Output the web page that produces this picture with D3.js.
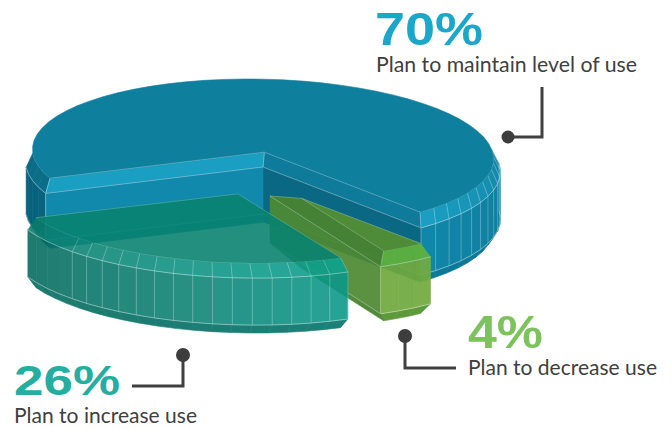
<!DOCTYPE html>
<html>
<head>
<meta charset="utf-8">
<script src="https://cdn.jsdelivr.net/npm/d3@7"></script>
<style>
  html, body { margin: 0; padding: 0; background: #fff; }
  svg { display: block; }
</style>
</head>
<body>
<svg id="chart" width="672" height="429"></svg>
<script>
// Survey shares, clockwise from the maintain wedge.
const categories = ["Plan to maintain level of use", "Plan to decrease use", "Plan to increase use"];
const shares = [70, 4, 26];
const shareLabels = ["70%", "4%", "26%"];

const DEG = Math.PI / 180;

// Placement of each exploded wedge on the page.
const wedgeFrames = [
  { cx: 263, cy: 154, rx: 230, ry: 75, shear: 15, opacity: 1, inset: 0.021, seamsFrom: 440, seamsTo: 502 },
  { cx: 270, cy: 183, rx: 234, ry: 75, shear: 15, opacity: 0.93, inset: 0.03, seamsFrom: 520, seamsTo: 520 },
  { cx: 240, cy: 192, rx: 225, ry: 71, shear: 16, opacity: 0.89, inset: 0.021, seamsFrom: 516, seamsTo: 592 }
];

// Face colours; ramps are keyed by the angle around the pie in degrees.
const wedgePaint = [
  {
    top: "#0f7f9e",
    bevel: { at: [250, 270, 450, 502], colors: ["#0b6f8a", "#0a6a84", "#1484a3", "#1aa0c3"] },
    wall: { at: [250, 270, 450, 502], colors: ["#05637e", "#05637e", "#0f7f9f", "#1086a8"] },
    foot: { at: [250, 502], colors: ["#0a6480", "#0b7a98"] },
    cutStart: ["#1a9fc2", "#1189ad", "#0f80a2"],
    cutEnd: ["#0f7b9a", "#0b6885", "#0a5f7a"]
  },
  {
    top: "#558f33",
    bevel: { at: [502, 517], colors: ["#5fb33c", "#5fb33c"] },
    wall: { at: [502, 517], colors: ["#72ab40", "#70a93f"] },
    foot: { at: [502, 517], colors: ["#52922d", "#52922d"] },
    cutStart: ["#4d8a33", "#4e8a34", "#4e8a34"],
    cutEnd: ["#4a8530", "#4e8a34", "#46812d"]
  },
  {
    top: "#088370",
    bevel: { at: [516, 560, 610], colors: ["#0ca391", "#0e9182", "#0a7a6a"] },
    wall: { at: [516, 560, 610], colors: ["#0b9a8a", "#0e8173", "#03695d"] },
    foot: { at: [516, 610], colors: ["#007268", "#00695c"] },
    cutStart: ["#088370", "#088370", "#088370"],
    cutEnd: ["#088370", "#088370", "#088370"]
  }
];

// Rings of the bevelled solid, from the top face down to the foot.
const rings = [
  { bevelled: true, radius: 1.00, drop: 0 },
  { bevelled: false, radius: 1.03, drop: 13 },
  { bevelled: false, radius: 1.03, drop: 60 },
  { bevelled: true, radius: 1.00, drop: 70 }
];
const SEGMENT = 5 * DEG;

const callouts = [
  { path: [[542, 87], [542, 137], [508, 137]], dot: [508, 137], r: 6.5 },
  { path: [[405, 336], [405, 368], [456, 368]], dot: [405, 336], r: 7 },
  { path: [[183, 355], [183, 386], [132, 386]], dot: [183, 355], r: 7 }
];
const labelStyle = [
  { color: "#1ba7c9", bigX: 375, bigY: 45, bigLen: 108, bigSize: 47, x: 376, y: 72, len: 261 },
  { color: "#7dc35c", bigX: 468, bigY: 348, bigLen: 75, bigSize: 47, x: 468, y: 375, len: 189 },
  { color: "#25ae9f", bigX: 14, bigY: 395, bigLen: 106, bigSize: 43, x: 14, y: 423, len: 183 }
];

const svg = d3.select("#chart");
const outline = d3.line();

const pie = d3.pie().sort(null).startAngle(250 * DEG).endAngle((250 + 360) * DEG);
const arcs = pie(shares);

function ramp(spec) {
  return d3.scaleLinear().domain(spec.at).range(spec.colors)
    .interpolate(d3.interpolateRgb).clamp(true);
}

function drawWedge(arc, frame, paint) {
  const sx = d3.scaleLinear().domain([-1, 1]).range([frame.cx - frame.rx, frame.cx + frame.rx]);
  const sy = d3.scaleLinear().domain([-1, 1]).range([frame.cy - frame.ry, frame.cy + frame.ry]);
  const project = (u, v, drop) => [sx(u) + frame.shear * v, sy(v) + drop];

  const a0 = arc.startAngle, a1 = arc.endAngle;
  const half = (a1 - a0) / 2, mid = (a0 + a1) / 2;
  const steps = Math.max(2, Math.ceil((a1 - a0) / SEGMENT));
  const insetOf = ring => ring.bevelled ? frame.inset : 0;

  // Rim point of a ring at step j, pulled in from the cut planes by the bevel.
  const rim = (ring, j) => {
    const pull = Math.asin(insetOf(ring) / ring.radius);
    const a = a0 + pull + (a1 - a0 - 2 * pull) * j / steps;
    return { a, p: project(ring.radius * Math.sin(a), -ring.radius * Math.cos(a), ring.drop) };
  };
  // Inner corner of a ring, slid along the wedge's bisector.
  const apex = ring => {
    const d = insetOf(ring) / Math.sin(half);
    return project(d * Math.sin(mid), -d * Math.cos(mid), ring.drop);
  };

  const g = svg.append("g").attr("opacity", frame.opacity);
  const face = (pts, fill) => g.append("path")
    .attr("d", outline(pts) + "Z").attr("fill", fill)
    .attr("stroke", fill).attr("stroke-width", 0.6).attr("stroke-linejoin", "round");
  const seam = (pts, alpha) => g.append("path")
    .attr("d", outline(pts)).attr("fill", "none")
    .attr("stroke", "#fff").attr("stroke-opacity", alpha).attr("stroke-width", 0.8);

  // Outer skin: only segments that turn toward the viewer.
  const bandRamps = [ramp(paint.bevel), ramp(paint.wall), ramp(paint.foot)];
  const faces = d3.range(steps).filter(j => {
    const a = a0 + (a1 - a0) * (j + 0.5) / steps;
    return -Math.cos(a) > -0.02;
  });
  [2, 1, 0].forEach(level => {
    faces.forEach(j => {
      const a = rim(rings[level], j), b = rim(rings[level], j + 1);
      const c = rim(rings[level + 1], j + 1), d = rim(rings[level + 1], j);
      const deg = ((a.a + b.a) / 2) / DEG;
      face([a.p, b.p, c.p, d.p], bandRamps[level](deg));
    });
  });
  [0, 1].forEach(level => {
    faces.forEach(j => {
      const deg = rim(rings[level], j).a / DEG;
      if (deg < frame.seamsFrom || deg > frame.seamsTo) return;
      seam([rim(rings[level], j).p, rim(rings[level + 1], j).p], 0.32);
    });
  });
  rings.slice(0, 3).forEach((ring, i) => {
    faces.forEach(j => seam([rim(ring, j).p, rim(ring, j + 1).p], i === 0 ? 0.4 : 0.5));
  });

  // Cut faces, where the plane's outward normal points at the viewer.
  const cuts = [
    { j: steps, normal: a1 + Math.PI / 2, colors: paint.cutEnd },
    { j: 0, normal: a0 - Math.PI / 2, colors: paint.cutStart }
  ];
  cuts.forEach(cut => {
    if (-Math.cos(cut.normal) <= 0) return;
    [0, 1, 2].forEach(level => {
      const top = rings[level], low = rings[level + 1];
      face([apex(top), rim(top, cut.j).p, rim(low, cut.j).p, apex(low)], cut.colors[level]);
    });
    [1, 2].forEach(level => seam([apex(rings[level]), rim(rings[level], cut.j).p], 0.4));
    seam([apex(rings[0]), apex(rings[1])], 0.3);
    seam([rim(rings[0], cut.j).p, rim(rings[1], cut.j).p], 0.45);
    seam([rim(rings[1], cut.j).p, rim(rings[2], cut.j).p], 0.45);
  });

  // Top face.
  const topPts = [apex(rings[0])].concat(d3.range(steps + 1).map(j => rim(rings[0], j).p));
  face(topPts, paint.top);
  const gapEnd = rim(rings[0], steps).p, gapStart = rim(rings[0], 0).p;
  [gapStart, gapEnd].forEach(p => seam([apex(rings[0]), p], 0.3));
}

arcs.forEach((arc, i) => drawWedge(arc, wedgeFrames[i], wedgePaint[i]));

// Leader lines from each wedge to its label.
callouts.forEach(c => {
  svg.append("path").attr("d", outline(c.path)).attr("fill", "none")
    .attr("stroke", "#404040").attr("stroke-width", 3);
  svg.append("circle").attr("cx", c.dot[0]).attr("cy", c.dot[1]).attr("r", c.r).attr("fill", "#3d3d3d");
});

// Share figures and their captions.
categories.forEach((name, i) => {
  const s = labelStyle[i];
  svg.append("text").text(shareLabels[i])
    .attr("x", s.bigX).attr("y", s.bigY)
    .attr("font-family", "'Liberation Sans', sans-serif").attr("font-weight", 700)
    .attr("font-size", s.bigSize).attr("fill", s.color)
    .attr("textLength", s.bigLen).attr("lengthAdjust", "spacingAndGlyphs");
  svg.append("text").text(name)
    .attr("x", s.x).attr("y", s.y)
    .attr("font-family", "Lato, sans-serif")
    .attr("font-size", 20.5).attr("fill", "#404040")
    .attr("textLength", s.len).attr("lengthAdjust", "spacingAndGlyphs");
});
</script>
</body>
</html>
